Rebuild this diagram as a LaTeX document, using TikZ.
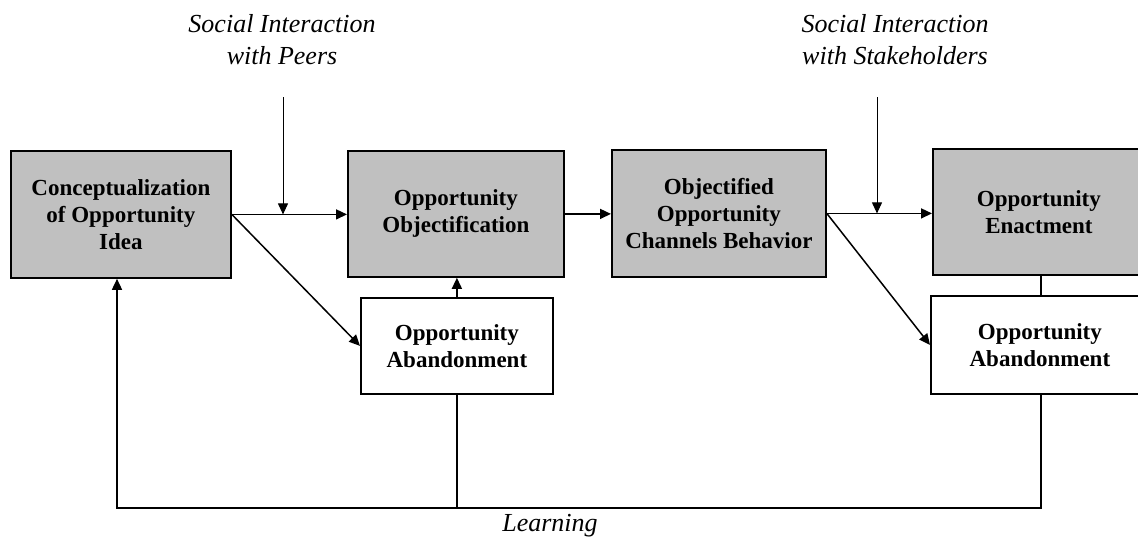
\documentclass[tikz,border=0pt]{standalone}
\usepackage{fontspec}
\setmainfont{Liberation Serif}
\usetikzlibrary{arrows.meta}
\definecolor{boxgray}{RGB}{192,192,192}
\tikzset{
  box/.style={draw=black, line width=1.8pt, align=center, inner sep=0pt,
    anchor=north west, font=\bfseries\fontsize{23}{27}\selectfont},
  graybox/.style={box, fill=boxgray},
  whitebox/.style={box, fill=white},
  conn/.style={line width=1.5pt, -{Triangle[length=11pt,width=10pt]}},
  plain/.style={line width=1.5pt},
  thinarrow/.style={line width=1pt, -{Triangle[length=11pt,width=10pt]}},
  lab/.style={align=center, inner sep=0pt, font=\itshape\fontsize{26}{32}\selectfont}
}
\begin{document}
\begin{tikzpicture}[x=1pt,y=-1pt]
\useasboundingbox (0,0) rectangle (1138,542);
\fill[white] (0,0) rectangle (1138,542);
% boxes
\node[graybox, minimum width=220pt, minimum height=127pt] (b1) at (10,150) {Conceptualization\\of Opportunity\\Idea};
\node[graybox, minimum width=216pt, minimum height=126pt] (b2) at (347,150) {Opportunity\\Objectification};
\node[graybox, minimum width=214pt, minimum height=127pt] (b3) at (611,149) {Objectified\\Opportunity\\Channels Behavior};
\node[graybox, minimum width=212pt, minimum height=126pt] (en) at (932,148) {Opportunity\\Enactment};
\node[whitebox, minimum width=192pt, minimum height=96pt] (ab1) at (360,297) {Opportunity\\Abandonment};
\node[whitebox, minimum width=218pt, minimum height=98pt] (ab2) at (930,295) {Opportunity\\Abandonment};
% labels
\node[lab] (peers) at (282,40) {Social Interaction\\with Peers};
\node[lab] (stake) at (895,40) {Social Interaction\\with Stakeholders};
\node[lab] (learn) at (550,526) {Learning};
% coordinates
\coordinate (ptop) at (283,97);
\coordinate (stop) at (877,97);
\coordinate (lb) at (117,508);
\coordinate (rb) at (1041,508);
% connectors
\draw[conn] (b1.east) -- (b1.east -| b2.west);
\draw[conn] (b1.east) -- (ab1.west);
\draw[conn] (b2.east) -- (b2.east -| b3.west);
\draw[conn] (b3.east) -- (b3.east -| en.west);
\draw[conn] (b3.east) -- (ab2.west);
\draw[conn] (ab1.north) -- (ab1.north |- b2.south);
\draw[thinarrow] (ptop) -- (ptop |- b1.east);
\draw[thinarrow] (stop) -- (stop |- b3.east);
\draw[plain] (rb |- en.south) -- (rb |- ab2.north);
\draw[plain] (ab1.south) -- (ab1.south |- lb);
\draw[conn] (rb |- ab2.south) -- (rb) -- (lb) -- (lb |- b1.south);
\end{tikzpicture}
\end{document}
